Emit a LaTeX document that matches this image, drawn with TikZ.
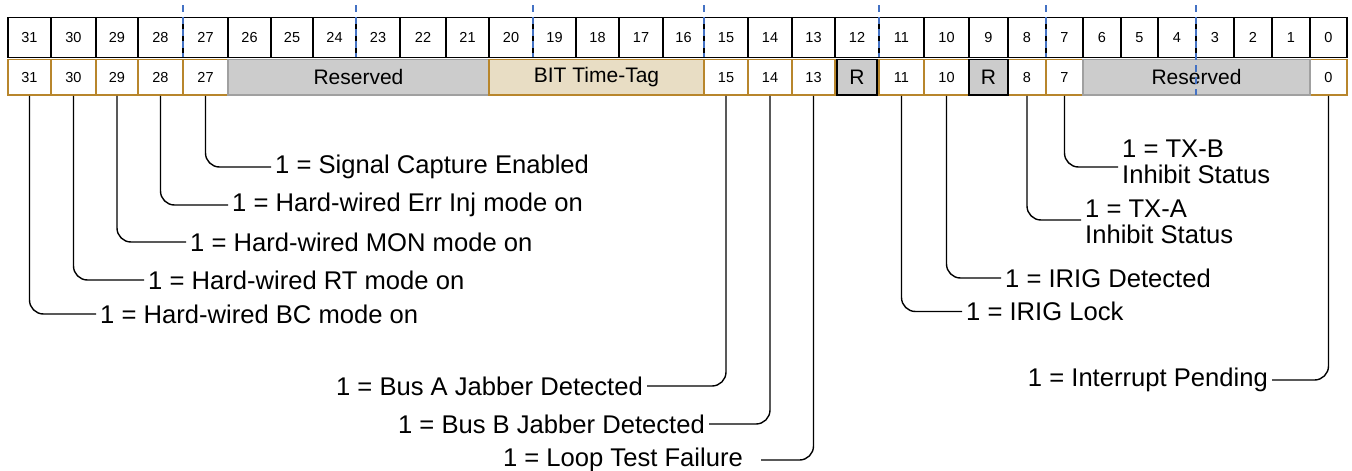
\documentclass[tikz,border=0pt]{standalone}
\usepackage{fontspec}
\setmainfont{Liberation Sans}
\definecolor{regbrown}{RGB}{184,134,44}
\definecolor{tagfill}{RGB}{232,221,196}
\definecolor{resfill}{RGB}{204,204,204}
\definecolor{resline}{RGB}{160,160,160}
\definecolor{nibble}{RGB}{68,114,196}
\tikzset{
  bitcell/.style={draw=black,line width=1.6pt,fill=white,inner sep=0pt,
    minimum height=40pt,font=\fontsize{14.5}{15}\selectfont},
  fieldcell/.style={draw=regbrown,line width=1.6pt,fill=white,inner sep=0pt,
    minimum height=35.5pt,font=\fontsize{14.5}{15}\selectfont},
  rcell/.style={draw=black,line width=1.6pt,fill=resfill,inner sep=0pt,
    minimum height=35.5pt,font=\fontsize{21}{22}\selectfont},
  rsvfield/.style={draw=resline,line width=1.6pt,fill=resfill,inner sep=0pt,
    minimum height=35.5pt,font=\fontsize{21}{22}\selectfont},
  tagfield/.style={draw=regbrown,line width=1.6pt,fill=tagfill,inner sep=0pt,
    minimum height=35.5pt,font=\fontsize{21}{22}\selectfont},
  nibbleline/.style={draw=nibble,line width=1.3pt,dash pattern=on 7pt off 5pt},
  wire/.style={line width=1.4pt,rounded corners=14pt},
  note/.style={inner sep=4pt,font=\fontsize{25.6}{25.6}\selectfont,align=left}
}
\begin{document}
\begin{tikzpicture}[x=1pt,y=-1pt]
    \useasboundingbox (0,0) rectangle (1352,471);
    % bit numbers
    \foreach \b/\l/\r in {31/8/51,30/51/96,29/96/138,28/138/183,27/183/228,26/228/271,25/271/313,24/313/356,23/356/400,22/400/446,21/446/489,20/489/533,19/533/576,18/576/619,17/619/663,16/663/704,15/704/748,14/748/792,13/792/835,12/835/879,11/879/924,10/924/969,9/969/1008,8/1008/1046,7/1046/1083,6/1083/1121,5/1121/1158,4/1158/1196,3/1196/1234,2/1234/1272,1/1272/1310,0/1310/1347}
        \node[bitcell,minimum width={(\r-\l)*1pt}] (t\b) at ({(\l+\r)/2},37.5) {\b};
    % fields
    \foreach \b/\l/\r in {31/8/51,30/51/96,29/96/138,28/138/183,27/183/228,15/704/748,14/748/792,13/792/835,11/879/924,10/924/969,8/1008/1046,7/1046/1083,0/1310/1347}
        \node[fieldcell,minimum width={(\r-\l)*1pt}] (b\b) at ({(\l+\r)/2},77.25) {\b};
    \node[rsvfield,minimum width=261pt] (rsvhi) at (358.5,77.25) {Reserved};
    \node[tagfield,minimum width=215pt] (tag) at (596.5,77.25) {BIT Time-Tag};
    \node[rcell,minimum width=40pt] (b12) at (857,77.25) {R};
    \node[rcell,minimum width=39pt] (b9) at (988.5,77.25) {R};
    \node[rsvfield,minimum width=227pt] (rsvlo) at (1196.5,77.25) {Reserved};
    % nibble marks
    \foreach \x in {183,356,533,704,879,1046}
        \draw[nibbleline] (\x,5) -- (\x,57);
    \draw[nibbleline] (1196,5) -- (1196,95);
    % descriptions
    \node[note,anchor=west] (l27) at (271,167) {1 = Signal Capture Enabled};
    \node[note,anchor=west] (l28) at (228,205) {1 = Hard-wired Err Inj mode on};
    \node[note,anchor=west] (l29) at (186,242) {1 = Hard-wired MON mode on};
    \node[note,anchor=west] (l30) at (144,280) {1 = Hard-wired RT mode on};
    \node[note,anchor=west] (l31) at (96,314) {1 = Hard-wired BC mode on};
    \node[note,anchor=west] (l7) at (1118,162) {1 = TX-B\\Inhibit Status};
    \node[note,anchor=west] (l8) at (1081,222) {1 = TX-A\\Inhibit Status};
    \node[note,anchor=west] (l10) at (1001,278) {1 = IRIG Detected};
    \node[note,anchor=west] (l11) at (962,311.5) {1 = IRIG Lock};
    \node[note,anchor=east] (l0) at (1272,380) {1 = Interrupt Pending};
    \node[note,anchor=east] (l15) at (647,386) {1 = Bus A Jabber Detected};
    \node[note,anchor=east] (l14) at (709,424) {1 = Bus B Jabber Detected};
    \node[note,anchor=east] (l13) at (747,460) {1 = Loop Test Failure};
    % connectors
    \foreach \b in {27,28,29,30,31,10,11}
        \draw[wire] (b\b.south) |- (l\b.west);
    \draw[wire] (b7.south) |- ([yshift=-5pt]l7.west);
    \draw[wire] (b8.south) |- ([yshift=2pt]l8.west);
    \foreach \b in {0,15,14}
        \draw[wire] (b\b.south) |- (l\b.east);
    \draw[wire] (b13.south) |- ([xshift=14pt]l13.east);
\end{tikzpicture}
\end{document}
